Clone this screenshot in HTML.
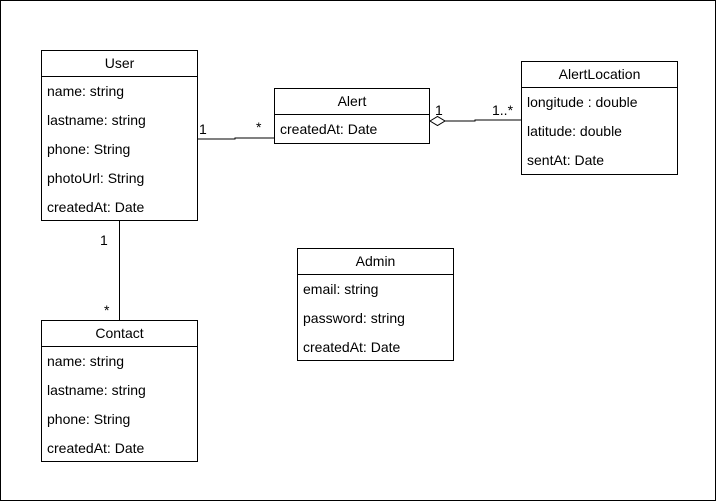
<!DOCTYPE html><html><head><style>
body{margin:0;width:716px;height:501px;background:#fff;font-family:"Liberation Sans",sans-serif;font-size:14px;color:#000;position:relative;overflow:hidden}
.frame{position:absolute;left:0;top:0;width:714px;height:499px;border:1px solid #000}
.b{position:absolute;border:1px solid #000;background:#fff;box-sizing:border-box}
.h{height:26px;line-height:24px;text-align:center;border-bottom:1px solid #000;box-sizing:border-box}
.r{height:29px;line-height:28px;padding-left:5px}
.t{position:absolute;font-size:14px}
</style></head><body>
<div class="frame"></div>
<svg width="716" height="501" style="position:absolute;left:0;top:0">
<path d="M197 139H235V138H274" fill="none" stroke="#000"/>
<path d="M445 121H475V120H521" fill="none" stroke="#000"/>
<path d="M430 121L437.5 116.5L445 121L437.5 125.5Z" fill="#fff" stroke="#000"/>
<path d="M119.5 220V320" stroke="#000"/>
</svg>
<div class="b" style="left:41px;top:50px;width:157px;height:171px"><div class="h">User</div><div class="r">name: string</div><div class="r">lastname: string</div><div class="r">phone: String</div><div class="r">photoUrl: String</div><div class="r">createdAt: Date</div></div>
<div class="b" style="left:274px;top:88px;width:156px;height:56px"><div class="h">Alert</div><div class="r">createdAt: Date</div></div>
<div class="b" style="left:521px;top:61px;width:157px;height:114px"><div class="h">AlertLocation</div><div class="r">longitude : double</div><div class="r">latitude: double</div><div class="r">sentAt: Date</div></div>
<div class="b" style="left:297px;top:248px;width:157px;height:113px"><div class="h">Admin</div><div class="r">email: string</div><div class="r">password: string</div><div class="r">createdAt: Date</div></div>
<div class="b" style="left:41px;top:320px;width:157px;height:142px"><div class="h">Contact</div><div class="r">name: string</div><div class="r">lastname: string</div><div class="r">phone: String</div><div class="r">createdAt: Date</div></div>
<div class="t" style="left:199px;top:121px">1</div>
<div class="t" style="left:256px;top:119px">*</div>
<div class="t" style="left:435px;top:102px">1</div>
<div class="t" style="left:492px;top:102px">1..*</div>
<div class="t" style="left:100px;top:232px">1</div>
<div class="t" style="left:104px;top:302px">*</div>
</body></html>
